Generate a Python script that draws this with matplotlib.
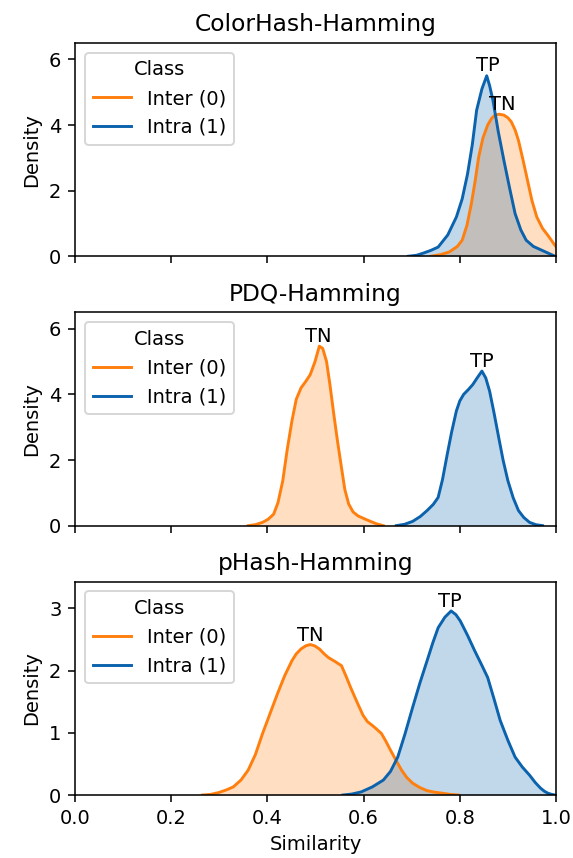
import matplotlib
matplotlib.use("Agg")
import matplotlib.pyplot as plt

titles = ["ColorHash-Hamming", "PDQ-Hamming", "pHash-Hamming"]
ymax = [6.5, 6.5, 3.43]

# ColorHash
ch_inter_x = [0.740, 0.760, 0.778, 0.795, 0.805, 0.815, 0.824, 0.832, 0.839, 0.848, 0.858, 0.866, 0.873, 0.882,
              0.892, 0.900, 0.907, 0.915, 0.922, 0.932, 0.941, 0.950, 0.960, 0.972, 0.983, 0.998, 1.01]
ch_inter_y = [0, 0.05, 0.13, 0.3, 0.49, 0.95, 1.6, 2.3, 3.0, 3.6, 4.0, 4.2, 4.3, 4.33,
              4.3, 4.22, 4.1, 3.85, 3.53, 2.9, 2.3, 1.7, 1.2, 0.85, 0.64, 0.33, 0.15]
ch_intra_x = [0.693, 0.710, 0.725, 0.740, 0.755, 0.775, 0.793, 0.805, 0.816, 0.826, 0.835, 0.846, 0.856, 0.862,
              0.869, 0.880, 0.892, 0.904, 0.915, 0.927, 0.938, 0.953, 0.968, 0.983, 0.998]
ch_intra_y = [0, 0.03, 0.1, 0.18, 0.28, 0.65, 1.2, 1.75, 2.5, 3.4, 4.45, 5.1, 5.5, 5.2,
              4.75, 3.8, 2.9, 2.05, 1.3, 0.8, 0.49, 0.3, 0.2, 0.1, 0.0]

# PDQ
pdq_inter_x = [0.360, 0.375, 0.390, 0.402, 0.413, 0.422, 0.432, 0.441, 0.451, 0.460, 0.470, 0.480, 0.489, 0.499,
               0.508, 0.515, 0.523, 0.530, 0.538, 0.546, 0.554, 0.561, 0.569, 0.578, 0.588, 0.600, 0.611, 0.626, 0.641]
pdq_inter_y = [0, 0.03, 0.1, 0.2, 0.35, 0.7, 1.37, 2.3, 3.19, 3.85, 4.2, 4.4, 4.6, 5.0,
               5.47, 5.4, 5.0, 4.3, 3.4, 2.55, 1.77, 1.1, 0.66, 0.42, 0.3, 0.22, 0.15, 0.06, 0]
pdq_intra_x = [0.668, 0.685, 0.702, 0.718, 0.732, 0.745, 0.755, 0.764, 0.774, 0.783, 0.793, 0.800, 0.808, 0.818,
               0.827, 0.836, 0.846, 0.854, 0.862, 0.871, 0.881, 0.890, 0.900, 0.911, 0.922, 0.933, 0.945, 0.958, 0.972]
pdq_intra_y = [0, 0.04, 0.13, 0.28, 0.46, 0.65, 0.86, 1.4, 2.18, 2.85, 3.5, 3.8, 4.0, 4.15,
               4.3, 4.5, 4.71, 4.5, 4.1, 3.45, 2.68, 2.0, 1.37, 0.85, 0.46, 0.25, 0.1, 0.03, 0]

# pHash
ph_inter_x = [0.265, 0.282, 0.299, 0.314, 0.329, 0.345, 0.360, 0.375, 0.390, 0.405, 0.421, 0.436, 0.451, 0.460,
              0.470, 0.480, 0.489, 0.498, 0.508, 0.518, 0.527, 0.540, 0.554, 0.563, 0.573, 0.586, 0.599, 0.608,
              0.618, 0.627, 0.637, 0.646, 0.656, 0.668, 0.679, 0.690, 0.702, 0.717, 0.732, 0.748, 0.763, 0.780, 0.797]
ph_inter_y = [0, 0.01, 0.04, 0.08, 0.13, 0.24, 0.4, 0.65, 0.99, 1.3, 1.63, 1.92, 2.16, 2.27,
              2.35, 2.4, 2.42, 2.4, 2.35, 2.27, 2.21, 2.15, 2.08, 1.92, 1.73, 1.5, 1.28, 1.18,
              1.12, 1.06, 0.99, 0.87, 0.72, 0.55, 0.4, 0.28, 0.19, 0.12, 0.07, 0.045, 0.03, 0.01, 0]
ph_intra_x = [0.557, 0.575, 0.595, 0.618, 0.641, 0.656, 0.671, 0.686, 0.702, 0.717, 0.732, 0.744, 0.755, 0.769,
              0.782, 0.792, 0.801, 0.816, 0.831, 0.845, 0.858, 0.871, 0.884, 0.900, 0.915, 0.930, 0.945, 0.957,
              0.968, 0.976, 0.983, 0.991, 0.998]
ph_intra_y = [0, 0.015, 0.05, 0.13, 0.24, 0.38, 0.61, 0.98, 1.41, 1.8, 2.16, 2.45, 2.69, 2.86,
              2.96, 2.9, 2.8, 2.57, 2.32, 2.1, 1.89, 1.55, 1.2, 0.88, 0.61, 0.45, 0.32, 0.2,
              0.11, 0.06, 0.03, 0.01, 0]

inter = [(ch_inter_x, ch_inter_y), (pdq_inter_x, pdq_inter_y), (ph_inter_x, ph_inter_y)]
intra = [(ch_intra_x, ch_intra_y), (pdq_intra_x, pdq_intra_y), (ph_intra_x, ph_intra_y)]

# peak labels: (text, x, y)
peak_labels = [
    [("TP", 0.858, 5.52), ("TN", 0.888, 4.33)],
    [("TN", 0.506, 5.47), ("TP", 0.845, 4.71)],
    [("TN", 0.489, 2.42), ("TP", 0.780, 2.96)],
]

c_inter = "#ff7f0e"
c_intra = "#0b62ad"

fig, axes = plt.subplots(3, 1, figsize=(573 / 140, 858 / 140), dpi=140, sharex=True)
fig.subplots_adjust(left=0.1309, right=0.9703, top=0.9499, bottom=0.0734, hspace=0.263)

for i, ax in enumerate(axes):
    xo, yo = inter[i]
    xb, yb = intra[i]
    ax.fill_between(xo, yo, color=c_inter, alpha=0.25, linewidth=0)
    ax.fill_between(xb, yb, color=c_intra, alpha=0.25, linewidth=0)
    ax.plot(xo, yo, color=c_inter, lw=1.5, label="Inter (0)")
    ax.plot(xb, yb, color=c_intra, lw=1.5, label="Intra (1)")
    for txt, tx, ty in peak_labels[i]:
        ax.text(tx, ty, txt, ha="center", va="bottom")
    ax.set_title(titles[i])
    ax.set_ylabel("Density")
    ax.set_xlim(0, 1)
    ax.set_ylim(0, ymax[i])
    ax.legend(title="Class", loc="upper left")

axes[-1].set_xticks([0.0, 0.2, 0.4, 0.6, 0.8, 1.0])
axes[-1].set_xlabel("Similarity")

fig.savefig("out.png", dpi=140)
